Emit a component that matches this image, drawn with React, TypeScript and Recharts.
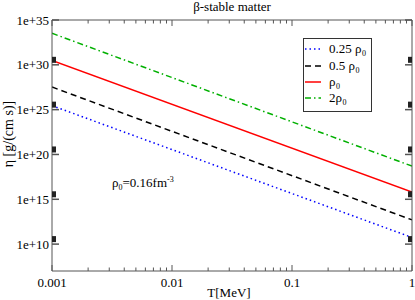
import React from 'react';
import {
  LineChart,
  Line,
  XAxis,
  YAxis,
  Customized,
} from 'recharts';

// temperature range [MeV]
const temps = [0.001, 1];

// viscosity eta [g/(cm s)] at T = 0.001 and T = 1
const eta025 = [2.8e25, 5.5e10];
const eta05 = [3.3e27, 5.0e12];
const eta1 = [3.0e30, 6.5e15];
const eta2 = [3.3e33, 5.0e18];

const majorXTicks = [0.001, 0.01, 0.1, 1];
const xTickLabels = ['0.001', '0.01', '0.1', '1'];
const minorXTicks = [0.001, 0.01, 0.1].flatMap((d) => [2, 3, 4, 5, 6, 7, 8, 9].map((m) => d * m));
const allXTicks = [...majorXTicks, ...minorXTicks].sort((a, b) => a - b);

const yTicks = [1e10, 1e15, 1e20, 1e25, 1e30, 1e35];
const yTickLabels = ['1e+10', '1e+15', '1e+20', '1e+25', '1e+30', '1e+35'];

const data = temps.map((t, i) => ({
  t,
  a: eta025[i],
  b: eta05[i],
  c: eta1[i],
  d: eta2[i],
}));

const FONT = '"Liberation Serif", "DejaVu Serif", serif';
const AXIS = '#555';

const series = [
  { key: 'a', label: '0.25 ρ', subDx: 33, color: '#0000ff', dash: '1.5 3' },
  { key: 'b', label: '0.5 ρ', subDx: 26.5, color: '#000000', dash: '6 4' },
  { key: 'c', label: 'ρ', subDx: 7, color: '#ff0000', dash: undefined },
  { key: 'd', label: '2ρ', subDx: 13.5, color: '#00b000', dash: '6 3 1.5 3' },
];

function majorIndex(v: number) {
  return majorXTicks.findIndex((m) => Math.abs(v - m) / m < 1e-6);
}

function XTick(props: any) {
  const { x, y, payload, side } = props;
  const idx = majorIndex(payload.value);
  const len = idx >= 0 ? 6 : 3.5;
  const dir = side === 'bottom' ? -1 : 1;
  return (
    <g>
      <line x1={x} y1={y} x2={x} y2={y + dir * len} stroke={AXIS} strokeWidth={1} />
      {side === 'bottom' && idx >= 0 && (
        <text x={x} y={y + 16} textAnchor="middle" fontSize={13} fontFamily={FONT} fill="#000">
          {xTickLabels[idx]}
        </text>
      )}
    </g>
  );
}

function YTick(props: any) {
  const { x, y, payload, side } = props;
  const idx = yTicks.findIndex((v) => Math.abs(payload.value - v) / v < 1e-6);
  const dir = side === 'left' ? 1 : -1;
  const last = idx === yTicks.length - 1;
  return (
    <g>
      <line x1={x} y1={y} x2={x + dir * 7} y2={y} stroke={AXIS} strokeWidth={1.5} />
      {!last && (
        <rect x={side === 'left' ? x : x - 4} y={y - 8} width={4} height={6} fill="#222" />
      )}
      {side === 'left' && idx >= 0 && (
        <text x={x - 3} y={y + 4.5} textAnchor="end" fontSize={13} fontFamily={FONT} fill="#000">
          {yTickLabels[idx]}
        </text>
      )}
    </g>
  );
}

function LegendBox() {
  const rowY = [49, 66, 82, 98];
  return (
    <g fontFamily={FONT} fill="#000">
      <rect x={303.5} y={38.5} width={68} height={73} fill="#fff" stroke="#333" strokeWidth={1} />
      {series.map((s, i) => (
        <g key={s.key}>
          <line x1={305} y1={rowY[i]} x2={321} y2={rowY[i]} stroke={s.color} strokeWidth={1.5} strokeDasharray={s.dash} />
          <text x={329} y={rowY[i] + 4} fontSize={13}>{s.label}</text>
          <text x={329 + s.subDx} y={rowY[i] + 7} fontSize={8}>0</text>
        </g>
      ))}
    </g>
  );
}

function Texts() {
  return (
    <g fontFamily={FONT} fill="#000">
      <text x={232} y={11} textAnchor="middle" fontSize={13}>β-stable matter</text>
      <text x={229} y={297} textAnchor="middle" fontSize={13}>T[MeV]</text>
      <text x={13} y={134} textAnchor="middle" fontSize={14} transform="rotate(-90 13 134)">
        η [g/(cm s)]
      </text>
      <text x={112} y={187} fontSize={13}>
        ρ<tspan fontSize={8} dy={3}>0</tspan>
        <tspan dy={-3}>=0.16fm</tspan>
        <tspan fontSize={8} dy={-5}>-3</tspan>
      </text>
    </g>
  );
}

export default function App() {
  return (
    <div style={{ position: 'absolute', left: 0, top: 0, width: 415, height: 300, background: '#fff' }}>
      <LineChart width={415} height={300} data={data} margin={{ top: 0, right: 0, bottom: 0, left: 0 }}>
        <XAxis
          dataKey="t"
          type="number"
          scale="log"
          domain={[0.001, 1]}
          allowDataOverflow
          ticks={allXTicks}
          interval={0}
          height={29}
          tickSize={0}
          tickMargin={0}
          axisLine={{ stroke: AXIS }}
          tickLine={false}
          tick={(p: any) => <XTick {...p} side="bottom" />}
        />
        <XAxis
          xAxisId="top"
          orientation="top"
          dataKey="t"
          type="number"
          scale="log"
          domain={[0.001, 1]}
          allowDataOverflow
          ticks={allXTicks}
          interval={0}
          height={20}
          tickSize={0}
          tickMargin={0}
          axisLine={{ stroke: AXIS }}
          tickLine={false}
          tick={(p: any) => <XTick {...p} side="top" />}
        />
        <YAxis
          type="number"
          scale="log"
          domain={[1e7, 1e35]}
          allowDataOverflow
          ticks={yTicks}
          interval={0}
          width={52}
          tickSize={0}
          tickMargin={0}
          axisLine={{ stroke: AXIS }}
          tickLine={false}
          tick={(p: any) => <YTick {...p} side="left" />}
        />
        <YAxis
          yAxisId="right"
          orientation="right"
          type="number"
          scale="log"
          domain={[1e7, 1e35]}
          allowDataOverflow
          ticks={yTicks}
          interval={0}
          width={3}
          tickSize={0}
          tickMargin={0}
          axisLine={{ stroke: AXIS }}
          tickLine={false}
          tick={(p: any) => <YTick {...p} side="right" />}
        />
        {series.map((s) => (
          <Line
            key={s.key}
            dataKey={s.key}
            stroke={s.color}
            strokeWidth={1.5}
            strokeDasharray={s.dash}
            dot={false}
            isAnimationActive={false}
          />
        ))}
        <Customized component={<LegendBox />} />
        <Customized component={<Texts />} />
      </LineChart>
    </div>
  );
}
